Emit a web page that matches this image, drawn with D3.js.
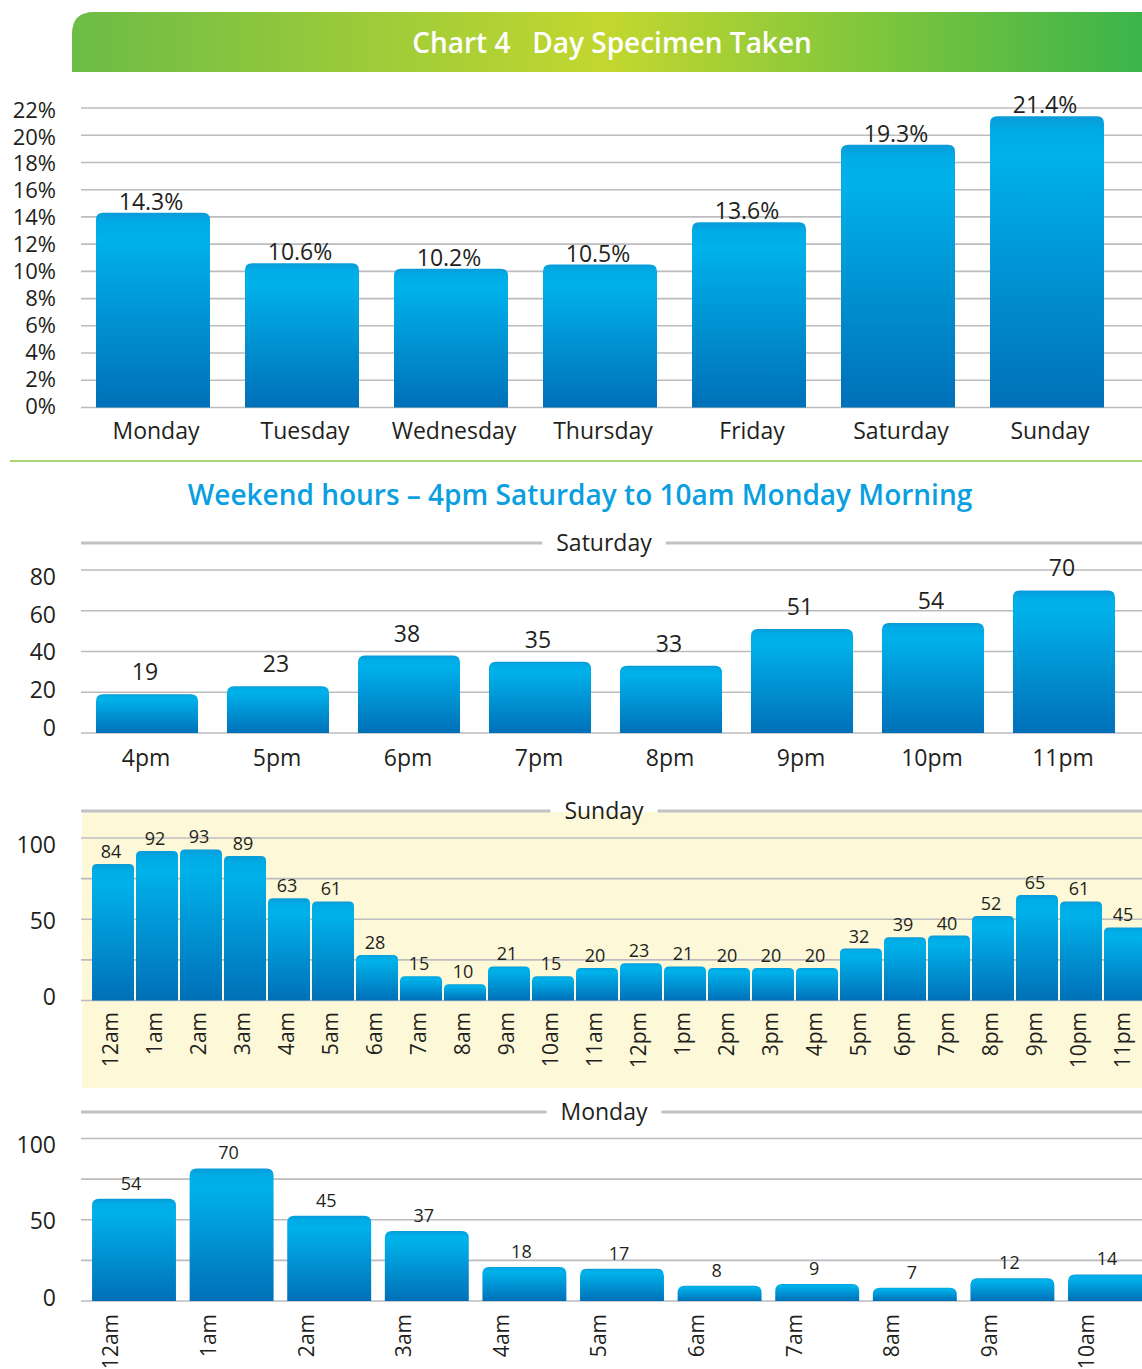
<!DOCTYPE html>
<html><head><meta charset="utf-8">
<script src="https://cdn.jsdelivr.net/npm/d3@7"></script>
<style>
body{margin:0;background:#fff;overflow:hidden}
svg{display:block}
text{font-family:"Open Sans","Noto Sans",sans-serif;fill:#231f20}
</style>
</head><body><svg id="c" width="1142" height="1369"></svg>
<script>
// ---------- data ----------
const chartTitle = "Chart 4   Day Specimen Taken";
const weekendTitle = "Weekend hours \u2013 4pm Saturday to 10am Monday Morning";

const days = ["Monday","Tuesday","Wednesday","Thursday","Friday","Saturday","Sunday"];
const dayPct = [14.3,10.6,10.2,10.5,13.6,19.3,21.4];
const pctTicks = [0,2,4,6,8,10,12,14,16,18,20,22];

const satHours = ["4pm","5pm","6pm","7pm","8pm","9pm","10pm","11pm"];
const satValues = [19,23,38,35,33,51,54,70];
const satTicks = [0,20,40,60,80];

const sunHours = ["12am","1am","2am","3am","4am","5am","6am","7am","8am","9am","10am","11am",
                  "12pm","1pm","2pm","3pm","4pm","5pm","6pm","7pm","8pm","9pm","10pm","11pm"];
const sunValues = [84,92,93,89,63,61,28,15,10,21,15,20,23,21,20,20,20,32,39,40,52,65,61,45];
const sunGrid = [0,25,50,75,100];
const sunTicks = [0,50,100];

const monHours = ["12am","1am","2am","3am","4am","5am","6am","7am","8am","9am","10am"];
const monValues = [54,70,45,37,18,17,8,9,7,12,14];
const monGrid = [0,25,50,75,100];
const monTicks = [0,50,100];

// ---------- setup ----------
const W = 1142;
const svg = d3.select("#c");
const defs = svg.append("defs");

const tg = defs.append("linearGradient").attr("id","titleGrad").attr("x1","0").attr("x2","1").attr("y1","0").attr("y2","0");
tg.append("stop").attr("offset","0").attr("stop-color","#6cbc46");
tg.append("stop").attr("offset","0.5").attr("stop-color","#c3d72f");
tg.append("stop").attr("offset","1").attr("stop-color","#3bb44a");

const bg = defs.append("linearGradient").attr("id","barGrad").attr("x1","0").attr("x2","0").attr("y1","0").attr("y2","1");
bg.append("stop").attr("offset","0").attr("stop-color","#0a9bd8");
bg.append("stop").attr("offset","0.05").attr("stop-color","#00acE6");
bg.append("stop").attr("offset","0.14").attr("stop-color","#00b1ea");
bg.append("stop").attr("offset","1").attr("stop-color","#0070b8");

function topRounded(x,y,w,h,r){
  r = Math.min(r, h, w/2);
  return `M${x},${y+h}V${y+r}Q${x},${y} ${x+r},${y}H${x+w-r}Q${x+w},${y} ${x+w},${y+r}V${y+h}Z`;
}

// ---------- title bar ----------
const tb = {x0:72, x1:W, y0:12, y1:72, r:22};
svg.append("path")
  .attr("d",`M${tb.x0},${tb.y1}V${tb.y0+tb.r}Q${tb.x0},${tb.y0} ${tb.x0+tb.r},${tb.y0}H${tb.x1}V${tb.y1}Z`)
  .attr("fill","url(#titleGrad)");
svg.append("text").attr("x",612).attr("y",53).attr("text-anchor","middle")
  .style("white-space","pre").attr("font-size",28).attr("font-weight",600)
  .style("fill","#fff").text(chartTitle);

// ---------- generic grid / axis helpers ----------
const gridColor = "#bcbcc0";
function grid(y, vals, x0, x1){
  svg.append("g").selectAll("line").data(vals).join("line")
    .attr("x1",x0).attr("x2",x1).attr("y1",d=>y(d)).attr("y2",d=>y(d))
    .attr("stroke",gridColor).attr("stroke-width",1.6);
}
function yLabels(y, vals, fmt, size){
  const ax = d3.axisLeft(y).tickValues(vals).tickSize(0).tickPadding(0).tickFormat(fmt);
  const g = svg.append("g").attr("transform","translate(56,0)").call(ax);
  g.select(".domain").remove();
  g.selectAll("text").attr("font-size",size).style("font-family",'"Open Sans","Noto Sans",sans-serif').style("fill","#231f20");
}
function separator(label, y, cx){
  const t = svg.append("text").attr("x",cx).attr("y",y+8).attr("text-anchor","middle").attr("font-size",23).text(label);
  const w = t.node().getComputedTextLength();
  svg.append("line").attr("x1",81).attr("x2",cx-w/2-14).attr("y1",y).attr("y2",y).attr("stroke","#c2c2c6").attr("stroke-width",3);
  svg.append("line").attr("x1",cx+w/2+14).attr("x2",W).attr("y1",y).attr("y2",y).attr("stroke","#c2c2c6").attr("stroke-width",3);
}

// ---------- chart 1: days ----------
{
  const x = d3.scaleBand().domain(days).range([78.5, 78.5+7*149]).paddingInner(0.235).paddingOuter(0.1175);
  const y = d3.scaleLinear().domain([0,22]).range([407.5,108]);
  const yl = d3.scaleLinear().domain([0,22]).range([406.5,110]);
  grid(y, pctTicks, 81, W);
  yLabels(yl, pctTicks, d=>d+"%", 22);
  svg.append("g").selectAll("path").data(days).join("path")
    .attr("d",(d,i)=>topRounded(x(d), y(dayPct[i]), x.bandwidth(), y(0)-y(dayPct[i]), 7))
    .attr("fill","url(#barGrad)");
  svg.append("g").selectAll("text").data(days).join("text")
    .attr("x",d=>x(d)+x.bandwidth()/2-2).attr("y",(d,i)=>y(dayPct[i])-3)
    .attr("text-anchor","middle").attr("font-size",23).text((d,i)=>d3.format(".1f")(dayPct[i])+"%");
  svg.append("g").selectAll("text").data(days).join("text")
    .attr("x",d=>x(d)+x.bandwidth()/2+3).attr("y",439)
    .attr("text-anchor","middle").attr("font-size",23).text(d=>d);
}

// divider
svg.append("line").attr("x1",10).attr("x2",W).attr("y1",461).attr("y2",461).attr("stroke","#8cc63f").attr("stroke-width",1.5);
svg.append("text").attr("x",580).attr("y",505).attr("text-anchor","middle")
  .attr("font-size",28).attr("font-weight",600).style("fill","#0a9fe0").text(weekendTitle);

// ---------- chart 2: Saturday ----------
{
  separator("Saturday", 543, 604);
  const x = d3.scaleBand().domain(satHours).range([81.5, 81.5+8*131]).paddingInner(0.221).paddingOuter(0.1105);
  const y = d3.scaleLinear().domain([0,80]).range([733,570]);
  const yl = d3.scaleLinear().domain([0,80]).range([728,577]);
  grid(y, satTicks, 81, W);
  yLabels(yl, satTicks, d=>d, 23);
  svg.append("g").selectAll("path").data(satHours).join("path")
    .attr("d",(d,i)=>topRounded(x(d), y(satValues[i]), x.bandwidth(), y(0)-y(satValues[i]), 7))
    .attr("fill","url(#barGrad)");
  svg.append("g").selectAll("text").data(satHours).join("text")
    .attr("x",d=>x(d)+x.bandwidth()/2-2).attr("y",(d,i)=>y(satValues[i])-14)
    .attr("text-anchor","middle").attr("font-size",23).text((d,i)=>satValues[i]);
  svg.append("g").selectAll("text").data(satHours).join("text")
    .attr("x",d=>x(d)+x.bandwidth()/2-1).attr("y",766)
    .attr("text-anchor","middle").attr("font-size",23).text(d=>d);
}

// ---------- chart 3: Sunday ----------
{
  svg.append("rect").attr("x",82).attr("y",812).attr("width",W-82).attr("height",276).attr("fill","#fdf9d8");
  separator("Sunday", 811, 604);
  const x = d3.scaleBand().domain(sunHours).range([91, 91+24*44]).paddingInner(0.045).paddingOuter(0.0225);
  const y = d3.scaleLinear().domain([0,100]).range([1000.5,838]);
  const yl = d3.scaleLinear().domain([0,100]).range([997,845]);
  grid(y, sunGrid, 81, W);
  yLabels(yl, sunTicks, d=>d, 23);
  svg.append("g").selectAll("path").data(sunHours).join("path")
    .attr("d",(d,i)=>topRounded(x(d), y(sunValues[i]), x.bandwidth(), y(0)-y(sunValues[i]), 5))
    .attr("fill","url(#barGrad)");
  svg.append("g").selectAll("text").data(sunHours).join("text")
    .attr("x",d=>x(d)+x.bandwidth()/2-2).attr("y",(d,i)=>y(sunValues[i])-6)
    .attr("text-anchor","middle").attr("font-size",18).text((d,i)=>sunValues[i]);
  svg.append("g").selectAll("text").data(sunHours).join("text")
    .attr("transform",d=>`translate(${x(d)+x.bandwidth()/2-2},1012) rotate(-90)`)
    .attr("text-anchor","end").attr("dy","0.35em").attr("font-size",21).text(d=>d);
}

// ---------- chart 4: Monday ----------
{
  separator("Monday", 1112, 604);
  const x = d3.scaleBand().domain(monHours).range([85.2, 85.2+11*97.6]).paddingInner(0.14).paddingOuter(0.07);
  const y = d3.scaleLinear().domain([0,100]).range([1301,1138.5]);
  const yl = d3.scaleLinear().domain([0,100]).range([1298,1145]);
  // the source draws the Monday bars on a stretched scale relative to its axis
  const yBar = d3.scaleLinear().domain([0,100/1.165]).range([1301,1138.5]);
  grid(y, monGrid, 81, W);
  yLabels(yl, monTicks, d=>d, 23);
  svg.append("g").selectAll("path").data(monHours).join("path")
    .attr("d",(d,i)=>topRounded(x(d), yBar(monValues[i]), x.bandwidth(), yBar(0)-yBar(monValues[i]), 7))
    .attr("fill","url(#barGrad)");
  svg.append("g").selectAll("text").data(monHours).join("text")
    .attr("x",d=>x(d)+x.bandwidth()/2-3).attr("y",(d,i)=>yBar(monValues[i])-9)
    .attr("text-anchor","middle").attr("font-size",18).text((d,i)=>monValues[i]);
  svg.append("g").selectAll("text").data(monHours).join("text")
    .attr("transform",d=>`translate(${x(d)+x.bandwidth()/2-23},1314) rotate(-90)`)
    .attr("text-anchor","end").attr("dy","0.35em").attr("font-size",21).text(d=>d);
}
</script>
</body></html>
